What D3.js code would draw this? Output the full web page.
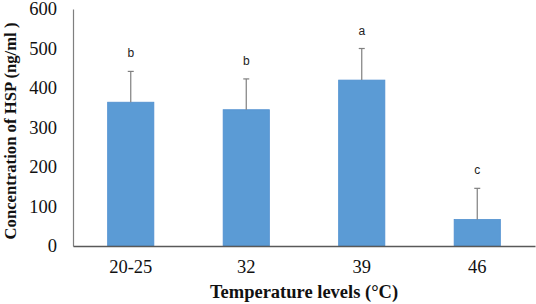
<!DOCTYPE html>
<html>
<head>
<meta charset="utf-8">
<script src="https://cdn.jsdelivr.net/npm/d3@7"></script>
<style>
  body { margin: 0; background: #fff; }
  svg { display: block; }
</style>
</head>
<body>
<div id="chart"></div>
<script>
const categories = ["20-25", "32", "39", "46"];
const hspValues = [364, 345, 420, 67];
const errValues = [78, 78, 80, 79];
const sigLetters = ["b", "b", "a", "c"];
const yTicks = [0, 100, 200, 300, 400, 500, 600];

const width = 536;
const height = 304;
const margin = { left: 73, right: 1, top: 9, bottom: 58 };
const serif = '"Liberation Serif", "Times New Roman", serif';

const svg = d3.select('#chart').append('svg')
    .attr('width', width)
    .attr('height', height);

const x = d3.scaleBand()
    .domain(categories)
    .range([margin.left, width - margin.right])
    .paddingInner(0.6)
    .paddingOuter(0.3);

const y = d3.scaleLinear()
    .domain([0, 600])
    .range([height - margin.bottom, margin.top]);

// bars
svg.append('g').selectAll('rect')
    .data(categories)
    .enter()
    .append('rect')
    .attr('x', d => x(d))
    .attr('y', (d, i) => y(hspValues[i]))
    .attr('width', x.bandwidth())
    .attr('height', (d, i) => y(0) - y(hspValues[i]))
    .attr('fill', '#5b9bd5')
    .attr('stroke', '#4f8fcf')
    .attr('stroke-width', 0.8);

// error bars (upper only)
const err = svg.append('g')
    .attr('stroke', '#7f7f7f')
    .attr('stroke-width', 1.2);
categories.forEach((c, i) => {
    const cx = x(c) + x.bandwidth() / 2;
    err.append('line')
        .attr('x1', cx).attr('x2', cx)
        .attr('y1', y(hspValues[i]))
        .attr('y2', y(hspValues[i] + errValues[i]));
    err.append('line')
        .attr('x1', cx - 3).attr('x2', cx + 3)
        .attr('y1', y(hspValues[i] + errValues[i]))
        .attr('y2', y(hspValues[i] + errValues[i]));
});

// significance letters
svg.append('g').selectAll('text')
    .data(categories)
    .enter()
    .append('text')
    .attr('x', d => x(d) + x.bandwidth() / 2)
    .attr('y', (d, i) => y(hspValues[i] + errValues[i]) - 14)
    .attr('text-anchor', 'middle')
    .style('font-family', '"Liberation Sans", Arial, sans-serif')
    .style('font-size', '12px')
    .attr('fill', '#222')
    .text((d, i) => sigLetters[i]);

// y axis
const yAxis = svg.append('g')
    .attr('transform', `translate(${margin.left},0)`)
    .call(d3.axisLeft(y).tickValues(yTicks).tickSize(0).tickPadding(16));
yAxis.select('.domain').attr('stroke', '#7f7f7f').attr('stroke-width', 1.2);
yAxis.selectAll('text')
    .style('font-family', serif)
    .style('font-size', '18.5px')
    .attr('fill', '#111');

// x axis
const xAxis = svg.append('g')
    .attr('transform', `translate(0,${y(0)})`)
    .call(d3.axisBottom(x).tickSize(0).tickPadding(14));
xAxis.select('.domain').attr('stroke', '#595959').attr('stroke-width', 1.4);
xAxis.selectAll('text')
    .style('font-family', serif)
    .style('font-size', '18.5px')
    .attr('fill', '#111');

// axis titles
svg.append('text')
    .attr('x', (margin.left + width - margin.right) / 2)
    .attr('y', 298)
    .attr('text-anchor', 'middle')
    .style('font-family', serif)
    .style('font-size', '18.5px')
    .style('font-weight', 'bold')
    .attr('fill', '#111')
    .text('Temperature levels (°C)');

svg.append('text')
    .attr('transform', 'translate(16,131) rotate(-90)')
    .attr('text-anchor', 'middle')
    .style('font-family', serif)
    .style('font-size', '16.7px')
    .style('font-weight', 'bold')
    .attr('fill', '#111')
    .text('Concentration of HSP (ng/ml )');
</script>
</body>
</html>
